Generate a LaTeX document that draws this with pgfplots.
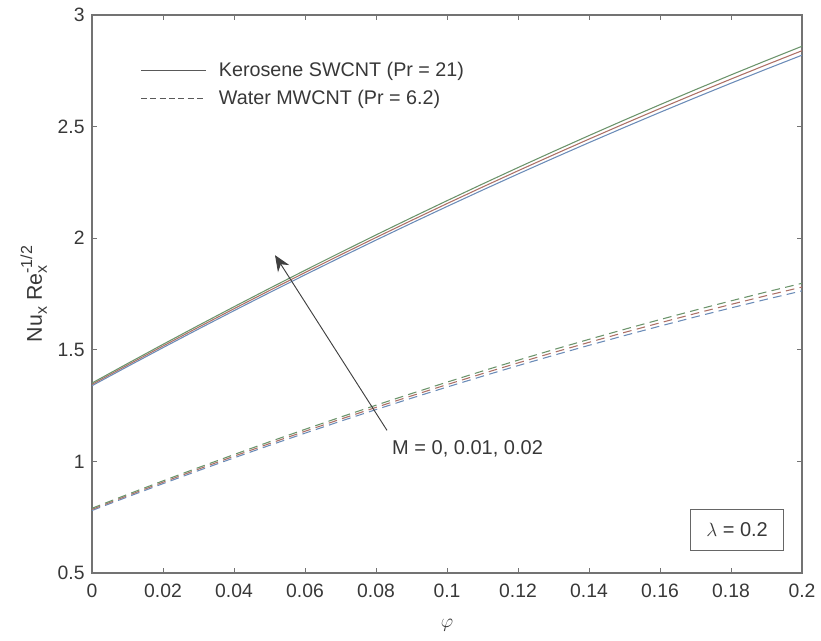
\documentclass[border=0pt]{standalone}
\usepackage{fontspec}
\setmainfont{Liberation Sans}
\usepackage{pgfplots}
\pgfplotsset{compat=1.18}
\usepackage{pgfplotstable}
\usetikzlibrary{arrows.meta}

\definecolor{axisgray}{gray}{0.45}
\definecolor{txtgray}{gray}{0.22}
\definecolor{mgreen}{rgb}{0.42,0.58,0.42}
\definecolor{mred}{rgb}{0.68,0.44,0.40}
\definecolor{mblue}{rgb}{0.42,0.55,0.72}

% Local Nusselt number vs nanoparticle volume fraction phi
% columns: M = 0, 0.01, 0.02 for each base fluid
\pgfplotstableread{
phi   ksa    ksb    ksc    wma    wmb    wmc
0.00  1.339  1.345  1.351  0.780  0.785  0.790
0.01  1.4249 1.4316 1.4383 0.8408 0.8464 0.8520
0.02  1.5096 1.5170 1.5244 0.9004 0.9066 0.9128
0.03  1.5930 1.6011 1.6092 0.9587 0.9655 0.9723
0.04  1.6752 1.6840 1.6928 1.0158 1.0232 1.0306
0.05  1.7561 1.7656 1.7751 1.0718 1.0798 1.0878
0.06  1.8358 1.8460 1.8562 1.1264 1.1350 1.1436
0.07  1.9142 1.9251 1.9360 1.1799 1.1891 1.1983
0.08  1.9914 2.0030 2.0146 1.2322 1.2420 1.2518
0.09  2.0673 2.0796 2.0919 1.2832 1.2936 1.3040
0.10  2.1420 2.1550 2.1680 1.3330 1.3440 1.3550
0.11  2.2154 2.2291 2.2428 1.3816 1.3932 1.4048
0.12  2.2876 2.3020 2.3164 1.4290 1.4412 1.4534
0.13  2.3585 2.3736 2.3887 1.4751 1.4879 1.5007
0.14  2.4282 2.4440 2.4598 1.5200 1.5334 1.5468
0.15  2.4966 2.5131 2.5296 1.5638 1.5778 1.5918
0.16  2.5638 2.5810 2.5982 1.6062 1.6208 1.6354
0.17  2.6297 2.6476 2.6655 1.6475 1.6627 1.6779
0.18  2.6944 2.7130 2.7316 1.6876 1.7034 1.7192
0.19  2.7578 2.7771 2.7964 1.7264 1.7428 1.7592
0.20  2.8200 2.8400 2.8600 1.7640 1.7810 1.7980
}\nucnt

\begin{document}
\begin{tikzpicture}
\useasboundingbox (-69pt,-51pt) rectangle (546.75pt,429.75pt);
\begin{axis}[
  at={(0,0)}, anchor=south west,
  scale only axis, width=532.5pt, height=418.5pt,
  xmin=0, xmax=0.2, ymin=0.5, ymax=3,
  xtick={0,0.02,0.04,0.06,0.08,0.1,0.12,0.14,0.16,0.18,0.2},
  xticklabels={0,0.02,0.04,0.06,0.08,0.1,0.12,0.14,0.16,0.18,0.2},
  ytick={0.5,1,1.5,2,2.5,3},
  yticklabels={0.5,1,1.5,2,2.5,3},
  tick align=inside, tick pos=both, major tick length=4pt,
  axis line style={axisgray, line width=0.8pt},
  tick style={axisgray, line width=0.6pt},
  tick label style={font=\fontsize{14.5}{16}\selectfont, text=txtgray},
  xticklabel style={yshift=-5pt},
  yticklabel style={xshift=-2pt},
  xlabel={$\varphi$},
  xlabel style={at={(axis description cs:0.5,-0.093)}, anchor=center, font=\fontsize{15}{17}\selectfont, text=txtgray},
  ylabel={Nu\raisebox{-0.45ex}{\fontsize{12}{13}\selectfont x} Re\rlap{\raisebox{-0.45ex}{\fontsize{12}{13}\selectfont x}}\raisebox{0.85ex}{\fontsize{12}{13}\selectfont -1/2}},
  ylabel style={at={(axis description cs:-0.082,0.5)}, anchor=center, font=\fontsize{16}{18}\selectfont, text=txtgray},
  legend image code/.code={\draw[#1] (0pt,0pt) -- (49pt,0pt); \path (56pt,0pt);},
  legend style={at={(rel axis cs:0.068,0.921)}, anchor=north west, draw=none, fill=none,
    font=\fontsize{14.8}{17}\selectfont, text=txtgray, row sep=5pt, inner sep=0pt},
  legend cell align=left,
]
\addlegendimage{black!65, line width=0.8pt}
\addlegendentry{Kerosene SWCNT (Pr = 21)}
\addlegendimage{black!65, line width=0.8pt, dash pattern=on 4.5pt off 2.5pt}
\addlegendentry{Water MWCNT (Pr = 6.2)}

% Kerosene SWCNT, solid
\addplot[forget plot, mblue,  line width=0.8pt] table[x=phi,y=ksa] {\nucnt};
\addplot[forget plot, mred,   line width=0.8pt] table[x=phi,y=ksb] {\nucnt};
\addplot[forget plot, mgreen, line width=0.8pt] table[x=phi,y=ksc] {\nucnt};
% Water MWCNT, dashed
\addplot[forget plot, mblue,  line width=0.8pt, dash pattern=on 6.5pt off 4pt] table[x=phi,y=wma] {\nucnt};
\addplot[forget plot, mred,   line width=0.8pt, dash pattern=on 6.5pt off 4pt] table[x=phi,y=wmb] {\nucnt};
\addplot[forget plot, mgreen, line width=0.8pt, dash pattern=on 6.5pt off 4pt] table[x=phi,y=wmc] {\nucnt};

% annotation for the magnetic parameter
\draw[-{Stealth[length=12pt,width=10pt]}, black!75, line width=0.7pt]
  (axis cs:0.0831,1.139) -- (axis cs:0.05155,1.924);
\node[anchor=west, font=\fontsize{15}{17}\selectfont, text=txtgray, inner sep=0pt]
  at (axis cs:0.0845,1.058) {M = 0, 0.01, 0.02};
\node[draw=black!60, line width=0.7pt, minimum width=70pt, minimum height=31pt,
  font=\fontsize{15}{17}\selectfont, text=txtgray]
  at (axis cs:0.1817,0.693) {$\lambda$ = 0.2};
\end{axis}
\end{tikzpicture}
\end{document}
